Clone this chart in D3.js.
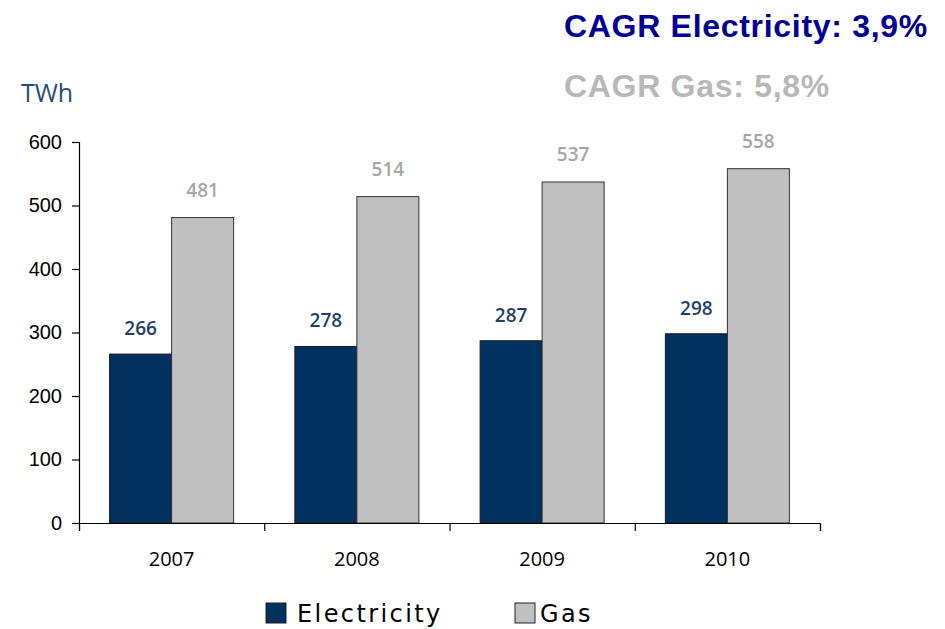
<!DOCTYPE html>
<html>
<head>
<meta charset="utf-8">
<script src="https://cdn.jsdelivr.net/npm/d3@7"></script>
<style>
  body { margin: 0; background: #fff; }
  svg { display: block; }
</style>
</head>
<body>
<svg id="chart"></svg>
<script>
var years = ["2007", "2008", "2009", "2010"]
var electricity = [266, 278, 287, 298]
var gas = [481, 514, 537, 558]
var yTicks = [0, 100, 200, 300, 400, 500, 600]
var seriesNames = ["Electricity", "Gas"]

var dims = {
    width: 945,
    height: 629,
    margin: { top: 142, bottom: 106, left: 79, right: 125 }
}

var colors = { elec: "#00315f", gas: "#c0c0c0", elecLabel: "#1f3f6a", gasLabel: "#a6a6a6" }

var svg = d3.select("#chart")
            .attr("width", dims.width)
            .attr("height", dims.height)

var xScale = d3.scaleBand()
               .domain(years)
               .range([dims.margin.left, dims.width - dims.margin.right])
               .paddingInner(0)
               .paddingOuter(0)

var yScale = d3.scaleLinear()
               .domain([0, 600])
               .range([dims.height - dims.margin.bottom, dims.margin.top])

// bars sit inside each band with ~30px gap on each side
var barW = 62
var barOffset = (xScale.bandwidth() - 2 * barW) / 2

var elecBars = svg.append("g")
                  .selectAll("rect")
                  .data(years)
                  .enter()
                  .append("rect")
                  .attr("x", d => xScale(d) + barOffset)
                  .attr("y", (d, i) => yScale(electricity[i]))
                  .attr("width", barW)
                  .attr("height", (d, i) => yScale(0) - yScale(electricity[i]))
                  .attr("fill", colors.elec)
                  .attr("stroke", "#1a1a1a")
                  .attr("stroke-width", 1)

var gasBars = svg.append("g")
                 .selectAll("rect")
                 .data(years)
                 .enter()
                 .append("rect")
                 .attr("x", d => xScale(d) + barOffset + barW)
                 .attr("y", (d, i) => yScale(gas[i]))
                 .attr("width", barW)
                 .attr("height", (d, i) => yScale(0) - yScale(gas[i]))
                 .attr("fill", colors.gas)
                 .attr("stroke", "#333")
                 .attr("stroke-width", 1)

var elecLabels = svg.append("g")
                    .selectAll("text")
                    .data(years)
                    .enter()
                    .append("text")
                    .attr("x", d => xScale(d) + barOffset + barW / 2)
                    .attr("y", (d, i) => yScale(electricity[i]) - 19)
                    .attr("text-anchor", "middle")
                    .attr("font-family", "'Open Sans', sans-serif")
                    .attr("font-weight", 600)
                    .attr("font-size", "19px")
                    .attr("fill", colors.elecLabel)
                    .text((d, i) => electricity[i])

var gasLabels = svg.append("g")
                   .selectAll("text")
                   .data(years)
                   .enter()
                   .append("text")
                   .attr("x", d => xScale(d) + barOffset + barW * 1.5)
                   .attr("y", (d, i) => yScale(gas[i]) - 21)
                   .attr("text-anchor", "middle")
                   .attr("font-family", "'Open Sans', sans-serif")
                   .attr("font-weight", 600)
                   .attr("font-size", "19px")
                   .attr("fill", colors.gasLabel)
                   .text((d, i) => gas[i])

// y axis
var yAxisGen = d3.axisLeft().scale(yScale).tickValues(yTicks).tickSize(7).tickPadding(10)
var yAxis = svg.append("g")
               .attr("transform", `translate(${dims.margin.left},0)`)
               .call(yAxisGen)
yAxis.selectAll("text")
     .attr("font-family", "'Liberation Sans', Arial, sans-serif")
     .attr("font-size", "20px")
     .attr("fill", "#000")

// x axis: ticks at the band boundaries
var boundScale = d3.scaleLinear().domain([0, years.length]).range(xScale.range())
var xAxisGen = d3.axisBottom().scale(boundScale).tickValues(d3.range(years.length + 1)).tickSize(8).tickFormat("")
var xAxis = svg.append("g")
               .attr("transform", `translate(0,${yScale(0)})`)
               .call(xAxisGen)

svg.selectAll(".domain, .tick line").attr("stroke", "#000").attr("stroke-width", 1.2)

var xLabels = svg.append("g")
                 .selectAll("text")
                 .data(years)
                 .enter()
                 .append("text")
                 .attr("x", d => xScale(d) + xScale.bandwidth() / 2)
                 .attr("y", yScale(0) + 43)
                 .attr("text-anchor", "middle")
                 .attr("font-family", "'Open Sans', sans-serif")
                 .attr("font-size", "20px")
                 .attr("fill", "#000")
                 .text(d => d)

// unit
svg.append("text")
   .attr("x", 21)
   .attr("y", 102)
   .attr("font-family", "'Open Sans', sans-serif")
   .attr("font-size", "25px")
   .attr("fill", "#1f4e79")
   .text("TWh")

// CAGR notes
svg.append("text")
   .attr("x", 564)
   .attr("y", 37)
   .attr("font-family", "'Liberation Sans', Arial, sans-serif")
   .attr("font-weight", "bold")
   .attr("font-size", "32px")
   .attr("letter-spacing", "0.7px")
   .attr("fill", "#000096")
   .text("CAGR Electricity: 3,9%")

svg.append("text")
   .attr("x", 564)
   .attr("y", 97)
   .attr("font-family", "'Liberation Sans', Arial, sans-serif")
   .attr("font-weight", "bold")
   .attr("font-size", "32px")
   .attr("letter-spacing", "0.7px")
   .attr("fill", "#b8b8b8")
   .text("CAGR Gas: 5,8%")

// legend
var legendX = [266, 515]
var legendGap = [31, 25]
var legendFill = [colors.elec, colors.gas]
var legend = svg.append("g")
                .selectAll("g")
                .data(seriesNames)
                .enter()
                .append("g")
                .attr("transform", (d, i) => `translate(${legendX[i]},603)`)
legend.append("rect")
      .attr("width", 20)
      .attr("height", 20)
      .attr("fill", (d, i) => legendFill[i])
      .attr("stroke", "#222")
      .attr("stroke-width", 1)
legend.append("text")
      .attr("x", (d, i) => legendGap[i])
      .attr("y", 19)
      .attr("font-family", "'DejaVu Sans', sans-serif")
      .attr("font-size", "24px")
      .attr("letter-spacing", "2.4px")
      .attr("fill", "#000")
      .text(d => d)
</script>
</body>
</html>
